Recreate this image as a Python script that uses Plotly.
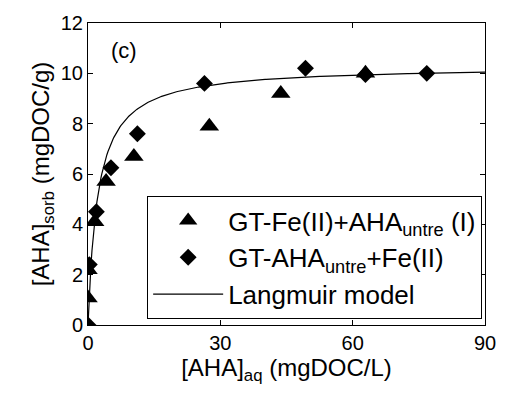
import plotly.graph_objects as go
import numpy as np

# Data
tri_x = [0.0, 0.0, 1.5, 4.1, 10.4, 27.5, 43.7, 62.9]
tri_y = [1.07, 2.2, 4.1, 5.7, 6.7, 7.9, 9.2, 10.0]

dia_x = [0.0, 0.3, 1.9, 5.2, 11.2, 26.4, 49.3, 62.9, 76.8]
dia_y = [0.0, 2.4, 4.5, 6.25, 7.6, 9.6, 10.2, 9.95, 10.0]

# Langmuir model parameters (estimated from the curve)
q_max = 10.3
k_l = 0.447
model_x = np.linspace(0, 90, 400)
model_y = q_max * k_l * model_x / (1 + k_l * model_x)

xticks = [0, 30, 60, 90]
yticks = [0, 2, 4, 6, 8, 10, 12]

font = "Liberation Sans, Arial, sans-serif"

fig = go.Figure()
fig.add_trace(go.Scatter(
    x=model_x, y=model_y, mode="lines",
    line=dict(color="black", width=1.2),
    name="Langmuir model", legendrank=3))
fig.add_trace(go.Scatter(
    x=tri_x, y=tri_y, mode="markers",
    marker=dict(symbol="triangle-up", size=17, color="black"),
    name="GT-Fe(II)+AHA<sub>untre</sub> (I)", legendrank=1))
fig.add_trace(go.Scatter(
    x=dia_x, y=dia_y, mode="markers",
    marker=dict(symbol="diamond", size=13, color="black"),
    name="GT-AHA<sub>untre</sub>+Fe(II)", legendrank=2))

fig.add_annotation(x=8.2, y=10.9, text="(c)", showarrow=False,
                   font=dict(size=22, color="black", family=font),
                   xanchor="center", yanchor="middle")

axis_common = dict(
    showgrid=False, zeroline=False, showline=True, linecolor="black",
    linewidth=1, mirror="ticks", ticks="inside", ticklen=5,
    tickcolor="black", tickfont=dict(size=20, color="black", family=font),
)

fig.update_xaxes(range=[0, 90], tickvals=xticks,
                 title=dict(text="[AHA]<sub>aq</sub> (mgDOC/L)",
                            font=dict(size=24, color="black", family=font),
                            standoff=6),
                 **axis_common)
fig.update_yaxes(range=[0, 12], tickvals=yticks,
                 title=dict(text="[AHA]<sub>sorb</sub> (mgDOC/g)",
                            font=dict(size=24, color="black", family=font),
                            standoff=4),
                 **axis_common)

fig.update_layout(
    width=508, height=399,
    margin=dict(l=88, r=16, t=15, b=74),
    plot_bgcolor="white", paper_bgcolor="white",
    font=dict(family=font, color="black"),
    legend=dict(x=0.149, y=0.427, xanchor="left", yanchor="top",
                bordercolor="black", borderwidth=1, bgcolor="white",
                font=dict(size=26, color="black", family=font),
                tracegroupgap=0, itemwidth=70),
)

fig.write_html("out.html")
